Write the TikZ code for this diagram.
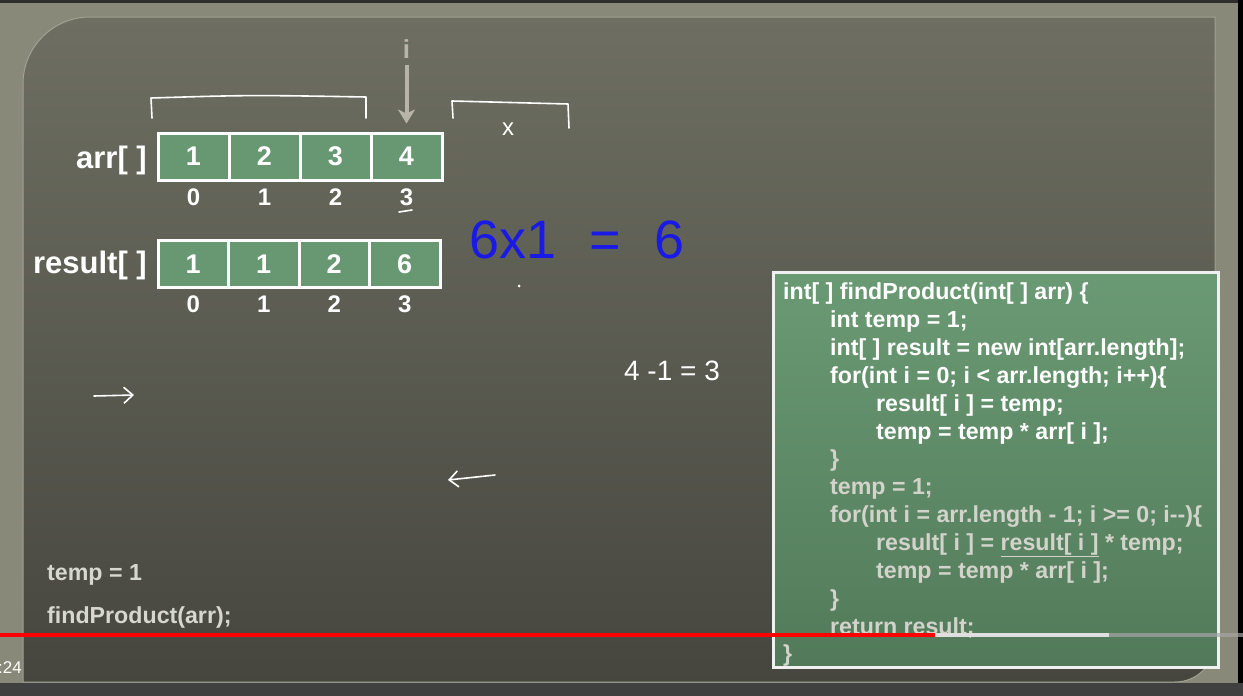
\documentclass[tikz,border=0pt]{standalone}
\usepackage{fontspec}
\setmainfont{Liberation Sans}
\usetikzlibrary{arrows.meta}
\definecolor{surround}{HTML}{888978}
\definecolor{boardtop}{HTML}{6E6F62}
\definecolor{boardbot}{HTML}{46463F}
\definecolor{cellgreen}{HTML}{689872}
\definecolor{codetop}{HTML}{6A9A73}
\definecolor{codebot}{HTML}{527A5A}
\definecolor{codegray}{HTML}{D2D3CB}
\definecolor{ptrgray}{HTML}{B8B5A8}
\definecolor{pen}{HTML}{1A1AE6}

\begin{document}
\begin{tikzpicture}[x=1pt, y=-1pt,
        cell/.style={rectangle, draw=white, fill=cellgreen, line width=3pt, minimum width=71pt, minimum height=47pt, inner sep=0pt, text=white, font=\fontsize{27}{27}\selectfont\bfseries},
        rcell/.style={cell, minimum width=70.5pt},
        idx/.style={anchor=base, inner sep=0pt, text=white, font=\fontsize{24}{24}\selectfont\bfseries},
        lbl/.style={anchor=base east, inner sep=0pt, text=white, font=\fontsize{31}{31}\selectfont\bfseries},
        codeline/.style={anchor=base west, inner sep=0pt, text=white, font=\fontsize{23.2}{28}\selectfont\bfseries},
        codefade/.style={codeline, text=codegray},
        hand/.style={draw=white, line width=1.6pt, line cap=round, line join=round},
        ptr/.style={-{Stealth[length=14pt, width=17pt, inset=4pt]}, draw=ptrgray, line width=4pt}]

        \useasboundingbox (0,0) rectangle (1243,696);
        \fill[surround] (0,0) rectangle (1243,696);
        \fill[black!82] (0,0) rectangle (1243,3);
        \fill[black] (1238,0) rectangle (1243,696);
        \fill[black!75] (0,683) rectangle (1243,696);
        \shade[top color=boardtop, bottom color=boardbot, draw=surround!80!white, line width=1pt]
            (23,682) -- (23,84) arc[start angle=180, end angle=270, radius=67] -- (1215,17)
            -- (1215,642) arc[start angle=0, end angle=90, radius=40] -- cycle;

        % arrays
        \node (arrlbl) [lbl] at (147,168) {arr[ ]};
        \node (a0) [cell] at (193.5,156.5) {1};
        \node (a1) [cell] at (264.5,156.5) {2};
        \node (a2) [cell] at (335.5,156.5) {3};
        \node (a3) [cell] at (406.5,156.5) {4};
        \node (ai0) [idx] at (193.5,205) {0};
        \node (ai1) [idx] at (264.5,205) {1};
        \node (ai2) [idx] at (335.5,205) {2};
        \node (ai3) [idx] at (406.5,205) {3};

        \node (reslbl) [lbl] at (147,273) {result[ ]};
        \node (r0) [rcell] at (193.25,264) {1};
        \node (r1) [rcell] at (263.75,264) {1};
        \node (r2) [rcell] at (334.25,264) {2};
        \node (r3) [rcell] at (404.75,264) {6};
        \node (ri0) [idx] at (193.25,312) {0};
        \node (ri1) [idx] at (263.75,312) {1};
        \node (ri2) [idx] at (334.25,312) {2};
        \node (ri3) [idx] at (404.75,312) {3};

        \node (iptr) [text=ptrgray, font=\fontsize{26}{26}\selectfont\bfseries] at (406.5,49) {i};
        \draw [ptr, shorten <=3pt, shorten >=8pt] (iptr.south) -- (a3.north);

        % pen marks
        \draw [hand] (152,118) -- (151,98) .. controls (250,95) .. (366,97) -- (366,118);
        \draw [hand] (453,118) -- (452,101) .. controls (510,102) .. (568,104) -- (569,128);
        \node (xmark) [text=white, font=\fontsize{24}{24}\selectfont] at (508,129) {x};
        \draw [hand] (399,212) .. controls (405,211) .. (412,210);
        \node (calc) [text=pen, font=\fontsize{54}{54}\selectfont] at (577,240) {6x1\,\, =\,\, 6};
        \fill[white] (519,286) circle[radius=1.5];
        \node (diff) [text=white, font=\fontsize{28}{28}\selectfont] at (672,371) {4 -1 = 3};
        \draw [hand, -{Straight Barb[length=9pt, width=16pt]}] (94,396) -- (134,395);
        \draw [hand, -{Straight Barb[length=9pt, width=16pt]}] (495,475) -- (448,480);

        % code box
        \node (codebox) [rectangle, draw=white!88!gray, line width=3pt, top color=codetop, bottom color=codebot, minimum width=445pt, minimum height=395pt] at (995.5,469.5) {};
        \node (c0) [codeline] at (783,299) {int[ ] findProduct(int[ ] arr) \{};
        \node (c1) [codeline] at (830,327) {int temp = 1;};
        \node (c2) [codeline] at (830,355) {int[ ] result = new int[arr.length];};
        \node (c3) [codeline] at (830,383) {for(int i = 0; i < arr.length; i++)\{};
        \node (c4) [codeline] at (876,411) {result[ i ] = temp;};
        \node (c5) [codeline] at (876,439) {temp = temp * arr[ i ];};
        \node (c6) [codefade] at (830,466) {\}};
        \node (c7) [codefade] at (830,494) {temp = 1;};
        \node (c8) [codefade] at (830,522) {for(int i = arr.length - 1; i >= 0; i-{}-)\{};
        \node (c9) [codefade] at (876,550) {result[ i ] = \underline{result[ i ]} * temp;};
        \node (c10) [codefade] at (876,578) {temp = temp * arr[ i ];};
        \node (c11) [codefade] at (830,606) {\}};
        \node (c12) [codefade] at (830,634) {return result;};
        \node (c13) [codefade] at (783,661) {\}};

        % call
        \node (tmp) [codefade, text=codegray!90!white] at (47,580) {temp = 1};
        \node (call) [codefade, text=codegray!90!white] at (47,623) {findProduct(arr);};

        % player bar
        \draw [line width=3.5pt, red] (0,635) -- (935,635);
        \draw [line width=3.5pt, white!75!gray] (935,635) -- (1109,635);
        \draw [line width=3.5pt, gray!70, opacity=0.7] (1109,635) -- (1243,635);
        \node (clock) [anchor=base west, inner sep=0pt, text=white, font=\fontsize{17}{17}\selectfont] at (-2,673) {:24};
    \end{tikzpicture}
\end{document}
